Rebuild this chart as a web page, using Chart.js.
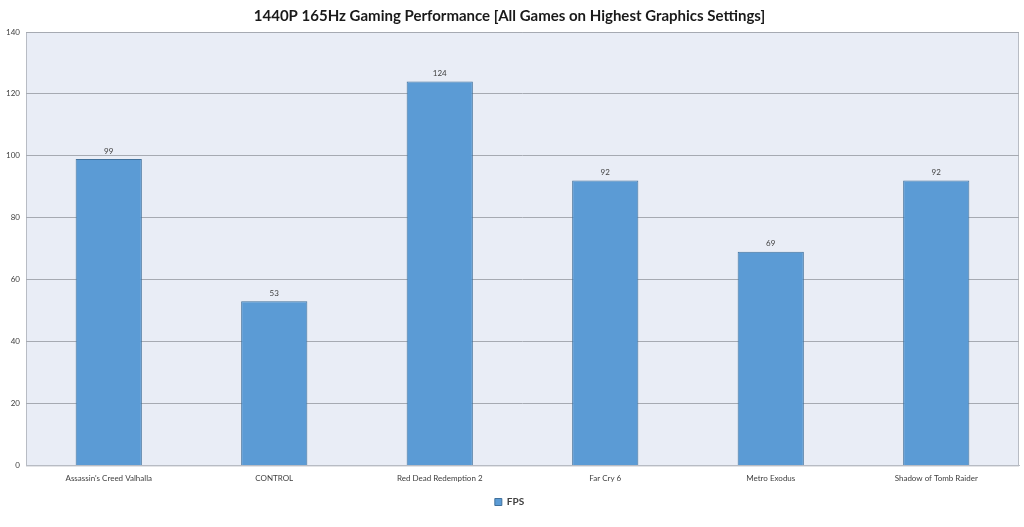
<!DOCTYPE html>
<html>
<head>
<meta charset="utf-8">
<script src="https://cdn.jsdelivr.net/npm/chart.js@4"></script>
<style>
  html, body { margin: 0; padding: 0; background: #fff; }
  #wrap { width: 1024px; height: 527px; }
</style>
</head>
<body>
<div id="wrap"><canvas id="chart"></canvas></div>
<script>
//-- Data//
const games = [
    "Assassin's Creed Valhalla",
    'CONTROL',
    'Red Dead Redemption 2',
    'Far Cry 6',
    'Metro Exodus',
    'Shadow of Tomb Raider'
];
const fps = [99, 53, 124, 92, 69, 92];
const yTicks = [0, 20, 40, 60, 80, 100, 120, 140];

const FONT = 'Lato, "Open Sans", sans-serif';

//-- Plot background + frame//
const plotBg = {
    id: 'plotBg',
    beforeDraw(chart) {
        const { ctx, chartArea: a } = chart;
        ctx.save();
        ctx.fillStyle = '#e9edf6';
        ctx.fillRect(a.left, a.top, a.right - a.left, a.bottom - a.top);
        ctx.strokeStyle = '#b8bcc4';
        ctx.lineWidth = 1;
        ctx.strokeRect(a.left + 0.5, a.top + 0.5, a.right - a.left - 1, a.bottom - a.top);
        ctx.restore();
    }
};

//-- Value labels above bars//
const valueLabels = {
    id: 'valueLabels',
    afterDatasetsDraw(chart) {
        const { ctx } = chart;
        const meta = chart.getDatasetMeta(0);
        ctx.save();
        ctx.font = '8px ' + FONT;
        ctx.fillStyle = '#404040';
        ctx.textAlign = 'center';
        ctx.textBaseline = 'bottom';
        meta.data.forEach((bar, i) => {
            ctx.fillText(String(fps[i]), bar.x, bar.y - 4);
        });
        ctx.restore();
    }
};

new Chart(document.getElementById('chart'), {
    type: 'bar',
    data: {
        labels: games,
        datasets: [
            {
                label: 'FPS',
                data: fps,
                backgroundColor: '#5b9bd5',
                borderColor: '#41719c',
                borderWidth: 1,
                borderSkipped: 'bottom',
                barPercentage: 0.8,
                categoryPercentage: 0.5
            }
        ]
    },
    options: {
        responsive: true,
        maintainAspectRatio: false,
        animation: false,
        layout: { padding: { top: 3, right: 5, left: 0, bottom: 10 } },
        scales: {
            x: {
                grid: { display: false },
                border: { color: '#b8bcc4' },
                ticks: {
                    color: '#404040',
                    font: { family: FONT, size: 8 },
                    maxRotation: 0,
                    padding: 0
                }
            },
            y: {
                min: 0,
                max: 140,
                afterBuildTicks(scale) {
                    scale.ticks = yTicks.map(v => ({ value: v }));
                },
                afterFit(scale) {
                    scale.width = 26;
                },
                grid: { color: '#a6aab2', drawTicks: false },
                border: { display: false },
                ticks: {
                    color: '#404040',
                    font: { family: FONT, size: 8 },
                    padding: 6
                }
            }
        },
        plugins: {
            title: {
                display: true,
                text: '1440P 165Hz Gaming Performance [All Games on Highest Graphics Settings]',
                color: '#1a1a1a',
                font: { family: FONT, size: 15, weight: 'bold' },
                padding: { top: 4, bottom: 7 }
            },
            legend: {
                position: 'bottom',
                labels: {
                    boxWidth: 7,
                    boxHeight: 7,
                    color: '#404040',
                    font: { family: FONT, size: 10, weight: 'bold' },
                    padding: 14
                }
            },
            tooltip: { enabled: false }
        }
    },
    plugins: [plotBg, valueLabels]
});
</script>
</body>
</html>
